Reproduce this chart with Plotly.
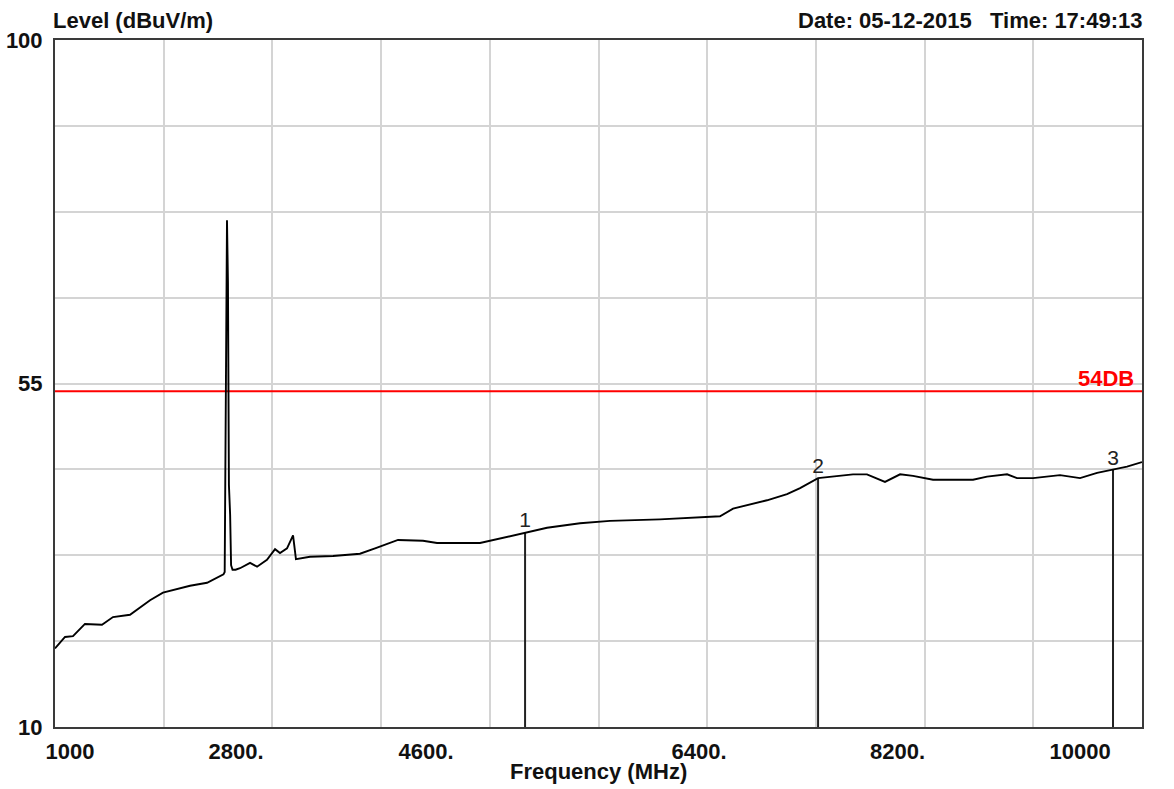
import plotly.graph_objects as go

# ---- data ----
freq_mhz = [1000, 1083, 1149, 1248, 1389, 1480, 1621, 1787, 1894, 2118, 2259, 2341,
            2395, 2405, 2410, 2424, 2432, 2440, 2450, 2458, 2470,
            2495, 2532, 2615, 2673, 2755, 2822, 2863, 2921, 2971, 2995, 3111, 3302,
            3525, 3650, 3774, 3840, 4047, 4163, 4519, 4627, 4892, 5074, 5347, 5595,
            6009, 6341, 6506, 6614, 6895, 7061, 7169, 7318, 7607, 7723, 7872, 7997,
            8104, 8270, 8601, 8717, 8883, 8965, 9098, 9321, 9487, 9628, 9760, 9876, 10000]
level_dbuv = [20.3, 21.8, 21.9, 23.5, 23.4, 24.4, 24.7, 26.6, 27.6, 28.5, 28.9, 29.5,
              30.0, 30.3, 41.7, 76.4, 68.3, 41.7, 37.8, 31.2, 30.6,
              30.6, 30.8, 31.5, 31.0, 31.9, 33.3, 32.8, 33.4, 35.1, 32.0, 32.3, 32.4,
              32.7, 33.4, 34.1, 34.5, 34.4, 34.1, 34.1, 34.5, 35.5, 36.1, 36.7, 37.0,
              37.2, 37.5, 37.6, 38.6, 39.7, 40.5, 41.3, 42.6, 43.1, 43.1, 42.1, 43.1,
              42.9, 42.4, 42.4, 42.8, 43.1, 42.6, 42.6, 43.0, 42.6, 43.3, 43.7, 44.1, 44.7]

marker_labels = ["1", "2", "3"]
marker_freq = [4892, 7318, 9760]
marker_level = [35.5, 42.6, 43.7]

limit_value = 54
limit_label = "54DB"

x_range = [1000, 10000]
y_range = [10, 100]
x_grid = [1900, 2800, 3700, 4600, 5500, 6400, 7300, 8200, 9100]
x_label_pos = [1124, 2499, 4072, 6332, 7976, 9487]
x_label_text = ["1000", "2800.", "4600.", "6400.", "8200.", "10000"]
y_grid = [10, 21.25, 32.5, 43.75, 55, 66.25, 77.5, 88.75, 100]
y_label_text = ["10", "", "", "", "55", "", "", "", "100"]

FONT = "Liberation Sans, Arial, sans-serif"
TXT = dict(family=FONT, size=22, color="#111111", weight="bold")

fig = go.Figure()

# limit line
fig.add_trace(go.Scatter(x=x_range, y=[limit_value, limit_value], mode="lines",
                         line=dict(color="#ff0000", width=2), hoverinfo="skip",
                         showlegend=False))

# marker stems
stem_x, stem_y = [], []
for f, l in zip(marker_freq, marker_level):
    stem_x += [f, f, None]
    stem_y += [l, y_range[0], None]
fig.add_trace(go.Scatter(x=stem_x, y=stem_y, mode="lines",
                         line=dict(color="#222222", width=2), hoverinfo="skip",
                         showlegend=False))

# spectrum trace
fig.add_trace(go.Scatter(x=freq_mhz, y=level_dbuv, mode="lines",
                         line=dict(color="#000000", width=1.9),
                         showlegend=False))

# marker numbers
fig.add_trace(go.Scatter(x=marker_freq, y=marker_level, mode="text",
                         text=marker_labels, textposition="top center",
                         textfont=dict(family=FONT, size=21, color="#222222"),
                         showlegend=False, hoverinfo="skip"))

fig.update_layout(
    width=1174, height=789,
    margin=dict(l=55, r=32, t=40, b=62, autoexpand=False),
    paper_bgcolor="white", plot_bgcolor="white",
    font=dict(family=FONT, size=22, color="#111111"),
    xaxis=dict(range=x_range, tickmode="array", tickvals=x_label_pos,
               ticktext=x_label_text, showgrid=False, zeroline=False,
               ticks="", ticklabelstandoff=4, automargin=False,
               tickfont=TXT,
               showline=True, linecolor="#3a3a3a", linewidth=2, mirror=True,
               minor=dict(tickmode="array", tickvals=x_grid, showgrid=True,
                          gridcolor="#d4d4d4", gridwidth=2, ticks="")),
    yaxis=dict(range=y_range, tickmode="array", tickvals=y_grid,
               ticktext=y_label_text, showgrid=True, gridcolor="#d4d4d4",
               gridwidth=2, zeroline=False, ticks="", ticklabelstandoff=6,
               automargin=False,
               tickfont=TXT,
               showline=True, linecolor="#3a3a3a", linewidth=2, mirror=True),
    annotations=[
        dict(text="Level (dBuV/m)", xref="paper", yref="paper", x=0, y=1,
             xanchor="left", yanchor="bottom", xshift=-4, yshift=5, showarrow=False,
             font=TXT),
        dict(text="Date: 05-12-2015&nbsp;&nbsp;&nbsp;Time: 17:49:13", xref="paper",
             yref="paper", x=1, y=1, xanchor="right", yanchor="bottom", xshift=2,
             yshift=5, showarrow=False, font=TXT),
        dict(text="Frequency (MHz)", xref="paper", yref="paper", x=0.5, y=0,
             xanchor="center", yanchor="top", yshift=-30, showarrow=False,
             font=TXT),
        dict(text=limit_label, xref="x", yref="y", x=x_range[1], y=limit_value,
             xanchor="right", yanchor="bottom", xshift=-6, yshift=-2, showarrow=False,
             font=dict(family=FONT, size=22, color="#ff0000", weight="bold")),
    ],
)

fig.write_html("out.html")
